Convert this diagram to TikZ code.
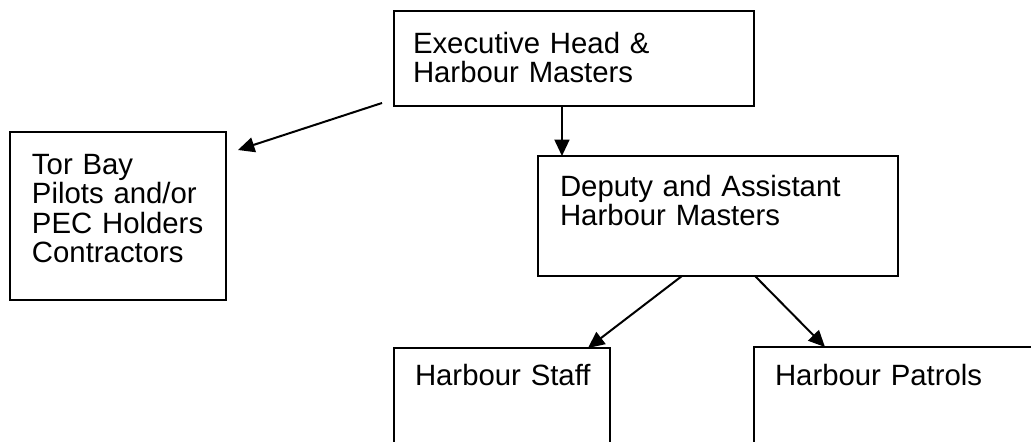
\documentclass[tikz,border=0pt]{standalone}
\usepackage{fontspec}
\setmainfont{Liberation Sans}
\usetikzlibrary{arrows.meta, calc}

\begin{document}
\begin{tikzpicture}[x=0.02cm, y=-0.02cm,
    arrow/.style={-{Triangle[length=0.33cm, width=0.3cm]}, line width=0.04cm},
    box/.style={draw, line width=0.04cm, anchor=north west, align=left,
                inner ysep=0pt, outer sep=0pt,
                font=\fontsize{16.7}{16.8}\selectfont}]
    \clip (0,0) rectangle (1031,441);

    % Top level
    \node[box, text width=6.44cm, inner xsep=0.38cm,
          text height=0.84cm, text depth=1.06cm] (exec) at (394,11)
          {Executive Head \&\\ Harbour Masters};

    % Side box
    \node[box, text width=3.44cm, inner xsep=0.44cm,
          text height=0.84cm, text depth=2.52cm] (tor) at (10,132)
          {Tor~Bay\\ Pilots~and/or\\ PEC~Holders\\ Contractors};

    % Second level
    \node[box, text width=6.32cm, inner xsep=0.44cm,
          text height=0.80cm, text depth=1.60cm] (deputy) at (538,156)
          {Deputy and Assistant\\ Harbour Masters};

    % Bottom level - cut off by the page edge
    \node[box, text width=3.48cm, inner xsep=0.42cm,
          text height=0.74cm, text depth=2cm] (staff) at (394,348)
          {Harbour~Staff};
    \node[box, text width=5.16cm, inner xsep=0.42cm,
          text height=0.76cm, text depth=2cm] (patrols) at (754,347)
          {Harbour~Patrols};

    % Arrows
    \draw[arrow] ($(exec.south west)+(-12,-3)$) -- ($(tor.north east)+(12,18)$);
    \coordinate (drop) at ($(exec.south)+(-12,0)$);
    \draw[arrow] (drop) -- (drop |- deputy.north);
    \draw[arrow] ($(deputy.south)+(-36,0)$) -- ($(staff.north east)+(-22,0)$);
    \draw[arrow] ($(deputy.south)+(37,0)$) -- ($(patrols.north west)+(71,0)$);
\end{tikzpicture}
\end{document}
